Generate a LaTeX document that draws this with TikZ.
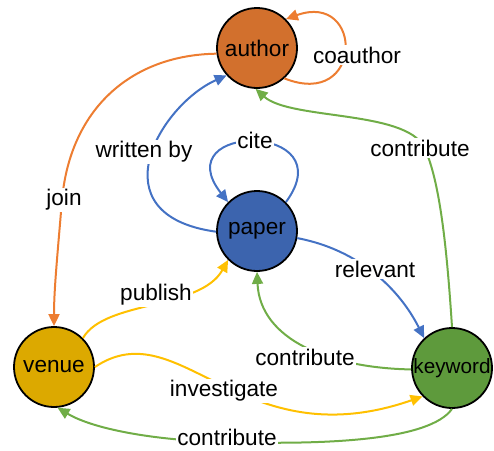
\documentclass[tikz,border=0pt]{standalone}
\usepackage{fontspec}
\setmainfont{Liberation Sans}
\usetikzlibrary{arrows.meta}
\definecolor{authorfill}{RGB}{210,112,45}
\definecolor{paperfill}{RGB}{60,100,174}
\definecolor{venuefill}{RGB}{220,169,0}
\definecolor{keywordfill}{RGB}{94,154,60}
\definecolor{eorange}{RGB}{237,125,49}
\definecolor{eblue}{RGB}{68,114,196}
\definecolor{egold}{RGB}{255,192,0}
\definecolor{egreen}{RGB}{112,173,71}
\begin{document}
\begin{tikzpicture}[x=1pt,y=1pt,
  ent/.style={circle,draw=black,line width=1.8pt,minimum size=80pt,inner sep=0pt,
    font=\fontsize{22.6}{27}\selectfont},
  lbl/.style={fill=white,inner sep=1.5pt,font=\fontsize{22.6}{27}\selectfont},
  rel/.style={line width=2pt,-{Triangle[length=12pt,width=11pt]}}]
\useasboundingbox (0,0) rectangle (494,-450);

% nodes
\node[ent,fill=authorfill] (author) at (257,-48) {\makebox[0pt]{author}};
\node[ent,fill=paperfill] (paper) at (257,-231) {\makebox[0pt]{paper}};
\node[ent,fill=venuefill] (venue) at (54,-367) {\makebox[0pt]{venue}};
\node[ent,fill=keywordfill] (keyword) at (452,-368) {\makebox[0pt]{\fontsize{20.7}{25}\selectfont keyword}};

% label positions
\coordinate (cjoin) at (62,-200);
\coordinate (ckw) at (424,-147);
\coordinate (cbot) at (227,-442);

% edges
\draw[rel,eorange] (author.-48) .. controls (364,-110) and (364,9) .. (author.45);
\draw[rel,eorange] (author.188) .. controls (130,-55) and (70,-110) .. (cjoin)
   .. controls (57,-260) and (54,-290) .. (venue.north);
\draw[rel,eblue] (paper.181) .. controls (95,-215) and (160,-105) .. (author.222);
\draw[rel,eblue] (paper.45) .. controls (345,-122) and (165,-122) .. (paper.135);
\draw[rel,eblue] (paper.-10) .. controls (360,-250) and (400,-290) .. (keyword.133);
\draw[rel,egold] (venue.45) .. controls (105,-300) and (200,-310) .. (paper.225);
\draw[rel,egold] (venue.0) .. controls (180,-310) and (240,-460) .. (keyword.224);
\draw[rel,egreen] (keyword.north) .. controls (447,-250) and (440,-180) .. (ckw)
   .. controls (405,-110) and (290,-120) .. (author.268);
\draw[rel,egreen] (keyword.182) .. controls (330,-368) and (260,-340) .. (paper.south);
\draw[rel,egreen] (keyword.south) .. controls (430,-440) and (330,-445) .. (cbot)
   .. controls (160,-441) and (95,-430) .. (venue.-85);

% labels
\node[lbl] (lcoauthor) at (357,-55) {coauthor};
\node[lbl] (ljoin) at (64,-200) {join};
\node[lbl] (lwritten) at (144,-152) {written by};
\node[lbl] (lcite) at (255,-140) {cite};
\node[lbl] (lcontribA) at (420,-148) {contribute};
\node[lbl] (lrelevant) at (375,-269) {relevant};
\node[lbl] (lpublish) at (156,-295) {publish};
\node[lbl] (lcontribP) at (305,-357) {contribute};
\node[lbl] (linvest) at (224,-391) {investigate};
\node[lbl] (lcontribV) at (227,-437) {contribute};
\end{tikzpicture}
\end{document}
